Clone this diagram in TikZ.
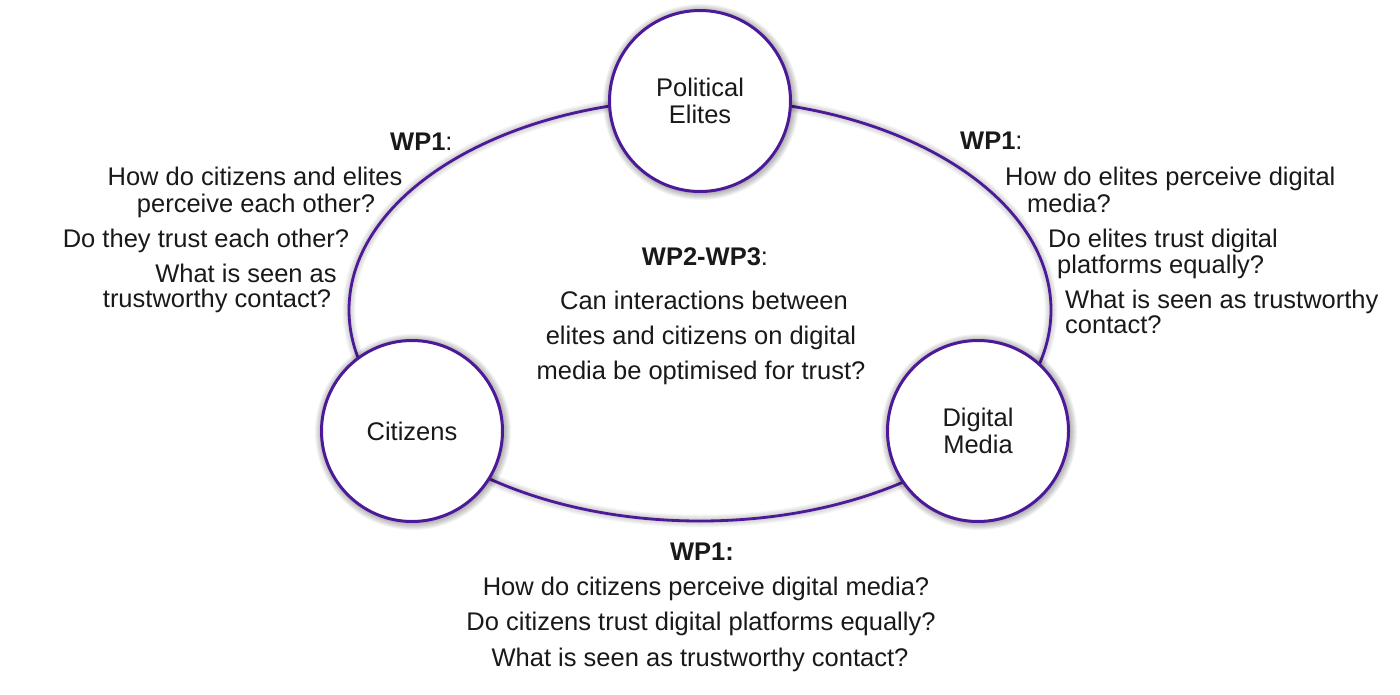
\documentclass[tikz,border=0pt]{standalone}
\usepackage{fontspec}
\setmainfont{Liberation Sans}
\definecolor{wpPurple}{RGB}{76,26,152}
\tikzset{
  txt/.style={font=\fontsize{25.5}{27}\selectfont, inner sep=0pt, text=black!90},
  actor/.style={circle, draw=wpPurple, line width=3pt, fill=white, minimum size=181pt,
    inner sep=0pt, align=center, font=\fontsize{25.5}{27}\selectfont, text=black!90},
  glow/.style={black, opacity=0.045},
}
\begin{document}
\begin{tikzpicture}[x=1pt,y=-1pt]
\useasboundingbox (0,0) rectangle (1400,694);
\fill[white] (0,0) rectangle (1400,694);
\coordinate (cE) at (700,310);
\coordinate (cPE) at (700,101);
\coordinate (cCI) at (412,431);
\coordinate (cDM) at (978,431);
% ellipse glow and ellipse
\foreach \k in {3,5,...,13} \draw[black,opacity=0.03,line width=\k pt] (cE) ellipse [x radius=351, y radius=211];
\draw[wpPurple,line width=2.8pt] (cE) ellipse [x radius=351, y radius=211];
% circle glows
\foreach \c in {cPE,cCI,cDM}{
  \foreach \k in {1,...,7}{
    \fill[glow] ([shift={(1,1)}]\c) circle (91+\k);
  }
}
% actors
\node[actor] (pe) at (cPE) {Political\\Elites};
\node[actor] (ci) at (cCI) {Citizens};
\node[actor] (dm) at (cDM) {Digital\\Media};
% left block
\node[txt,anchor=base west] (l0) at (390,150) {\textbf{WP1}:};
\node[txt,anchor=base] (l1) at (255,185) {How do citizens and elites};
\node[txt,anchor=base] (l2) at (256,212) {perceive each other?};
\node[txt,anchor=base] (l3) at (206,247) {Do they trust each other?};
\node[txt,anchor=base] (l4) at (246,282) {What is seen as};
\node[txt,anchor=base] (l5) at (217,307) {trustworthy contact?};
% right block
\node[txt,anchor=base west] (r0) at (960,149) {\textbf{WP1}:};
\node[txt,anchor=base west] (r1) at (1005,185) {How do elites perceive digital};
\node[txt,anchor=base west] (r2) at (1027,212) {media?};
\node[txt,anchor=base west] (r3) at (1048,247) {Do elites trust digital};
\node[txt,anchor=base west] (r4) at (1057,273) {platforms equally?};
\node[txt,anchor=base west] (r5) at (1065,308) {What is seen as trustworthy};
\node[txt,anchor=base west] (r6) at (1065,333) {contact?};
% center block
\node[txt,anchor=base] (c0) at (705,265) {\textbf{WP2-WP3}:};
\node[txt,anchor=base] (c1) at (704,309) {Can interactions between};
\node[txt,anchor=base] (c2) at (701,344) {elites and citizens on digital};
\node[txt,anchor=base] (c3) at (701,379) {media be optimised for trust?};
% bottom block
\node[txt,anchor=base] (b0) at (702,560) {\textbf{WP1:}};
\node[txt,anchor=base] (b1) at (706,595) {How do citizens perceive digital media?};
\node[txt,anchor=base] (b2) at (701,630) {Do citizens trust digital platforms equally?};
\node[txt,anchor=base] (b3) at (700,666) {What is seen as trustworthy contact?};
\end{tikzpicture}
\end{document}
